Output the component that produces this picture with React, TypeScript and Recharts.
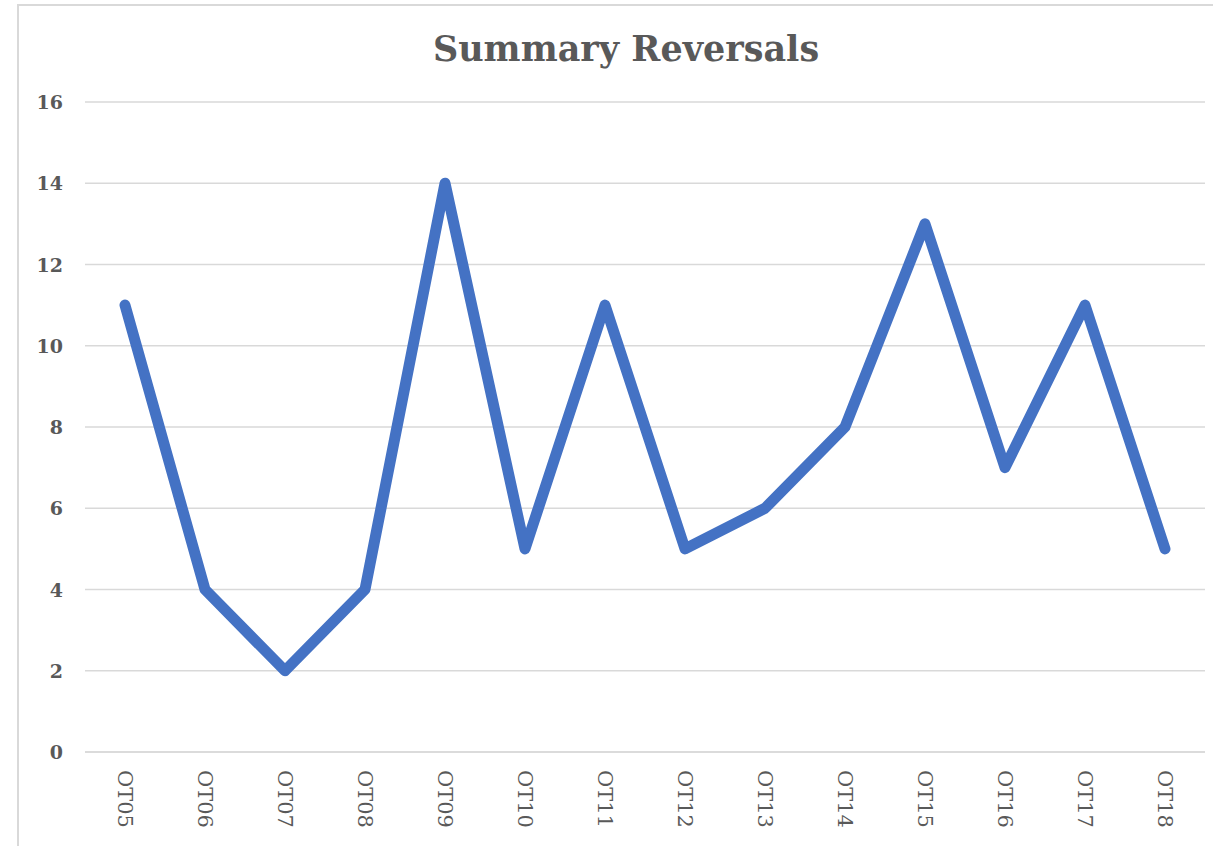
import React from 'react'
import { CartesianGrid, Line, LineChart, XAxis, YAxis } from 'recharts'

const terms = ['OT05', 'OT06', 'OT07', 'OT08', 'OT09', 'OT10', 'OT11', 'OT12', 'OT13', 'OT14', 'OT15', 'OT16', 'OT17', 'OT18']
const reversals = [11, 4, 2, 4, 14, 5, 11, 5, 6, 8, 13, 7, 11, 5]
const yTicks = [0, 2, 4, 6, 8, 10, 12, 14, 16]

const data = terms.map((t, i) => ({ term: t, value: reversals[i] }))

const FONT = "'DejaVu Serif', serif"
const GREY = '#595959'

const XTick = (props: any) => {
  const { x, y, payload } = props
  return (
    <text
      x={x}
      y={y}
      transform={`rotate(90, ${x}, ${y})`}
      textAnchor='start'
      dominantBaseline='central'
      fill={GREY}
      fontFamily={FONT}
      fontSize={21}
    >
      {payload.value}
    </text>
  )
}

const YTick = (props: any) => {
  const { x, y, payload } = props
  return (
    <text x={x} y={y} textAnchor='end' dominantBaseline='central' fill={GREY} fontFamily={FONT} fontSize={19} fontWeight='bold'>
      {payload.value}
    </text>
  )
}

const App: React.FC = () => {
  return (
    <div style={{ position: 'absolute', left: 0, top: 0, width: 1213, height: 846, background: 'white', overflow: 'hidden' }}>
      <div
        style={{
          position: 'absolute',
          left: 17,
          top: 4,
          width: 1240,
          height: 900,
          border: '2px solid #d9d9d9',
        }}
      />
      <div
        style={{
          position: 'absolute',
          left: 0,
          top: 28,
          width: 1252,
          textAlign: 'center',
          fontFamily: FONT,
          fontWeight: 'bold',
          fontSize: 35,
          color: GREY,
        }}
      >
        Summary Reversals
      </div>
      <div style={{ position: 'absolute', left: 0, top: 0 }}>
        <LineChart width={1213} height={846} data={data} margin={{ top: 102, right: 8, left: 25, bottom: 14 }}>
          <CartesianGrid vertical={false} stroke='#d9d9d9' strokeWidth={1.5} />
          <XAxis
            dataKey='term'
            axisLine={{ stroke: '#d9d9d9', strokeWidth: 1.5 }}
            tickLine={false}
            interval={0}
            height={80}
            tickMargin={12}
            padding={{ left: 40, right: 40 }}
            tick={<XTick />}
          />
          <YAxis
            width={60}
            domain={[0, 16]}
            ticks={yTicks}
            axisLine={false}
            tickLine={false}
            tickMargin={16}
            tick={<YTick />}
          />
          <Line
            type='linear'
            dataKey='value'
            stroke='#4472c4'
            strokeWidth={11}
            strokeLinejoin='round'
            strokeLinecap='round'
            dot={false}
            activeDot={false}
            isAnimationActive={false}
          />
        </LineChart>
      </div>
    </div>
  )
}

export default App
